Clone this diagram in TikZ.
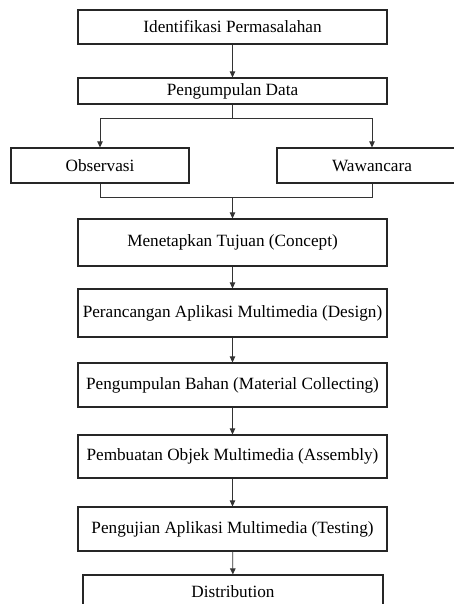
\documentclass[tikz,border=0pt]{standalone}
\usepackage{fontspec}
\setmainfont{Liberation Serif}
\usetikzlibrary{arrows.meta}
\begin{document}
\begin{tikzpicture}[x=1pt,y=-1pt,
  box/.style={draw=black!85,line width=1.2pt,inner sep=0pt,align=center,
    font=\fontsize{17.2}{20}\selectfont},
  conn/.style={draw=black!80,line width=0.8pt},
  arr/.style={conn,-{Triangle[length=6pt,width=5.5pt]}}]
\useasboundingbox (0,0) rectangle (454,604);
\clip (0,0) rectangle (454,604);
\node[box,minimum width=309pt,minimum height=34pt] (b1) at (232.5,27) {Identifikasi Permasalahan};
\node[box,minimum width=309pt,minimum height=26pt] (b2) at (232.5,91) {Pengumpulan Data};
\node[box,minimum width=178pt,minimum height=35pt] (obs) at (100,165.5) {Observasi};
\node[box,minimum width=190pt,minimum height=35pt] (waw) at (372,165.5) {Wawancara};
\node[box,minimum width=309pt,minimum height=47pt] (b3) at (232.5,242.5) {Menetapkan Tujuan (Concept)};
\node[box,minimum width=309pt,minimum height=48pt] (b4) at (232.5,313) {Perancangan Aplikasi Multimedia (Design)};
\node[box,minimum width=309pt,minimum height=44pt] (b5) at (232.5,385) {Pengumpulan Bahan (Material Collecting)};
\node[box,minimum width=309pt,minimum height=43pt] (b6) at (232.5,456.5) {Pembuatan Objek Multimedia (Assembly)};
\node[box,minimum width=309pt,minimum height=44pt] (b7) at (232.5,529) {Pengujian Aplikasi Multimedia (Testing)};
\node[box,minimum width=300pt,minimum height=34pt] (b8) at (233,592) {Distribution};
\coordinate (split) at (232.5,118);
\coordinate (join) at (232.5,197);
\draw[arr] (b1) -- (b2);
\draw[conn] (b2.south) -- (split);
\draw[arr] (split) -| (obs.north);
\draw[arr] (split) -| (waw.north);
\draw[conn] (obs.south) |- (join);
\draw[conn] (waw.south) |- (join);
\draw[arr] (join) -- (b3.north);
\draw[arr] (b3) -- (b4);
\draw[arr] (b4) -- (b5);
\draw[arr] (b5) -- (b6);
\draw[arr] (b6) -- (b7);
\draw[arr] (b7) -- (b8);
\end{tikzpicture}
\end{document}
